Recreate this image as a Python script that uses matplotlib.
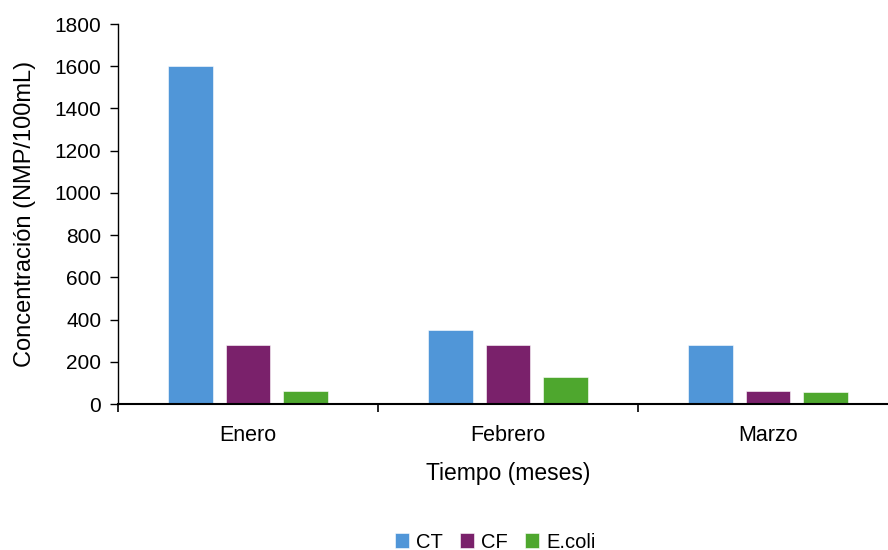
import numpy as np
import matplotlib.pyplot as plt

meses = ["Enero", "Febrero", "Marzo"]
series = ["CT", "CF", "E.coli"]
ct = [1600, 350, 280]
cf = [280, 280, 60]
ecoli = [60, 130, 55]
colores = ["#5096d8", "#7a216b", "#4ea72e"]

plt.rcParams["font.family"] = ["Liberation Sans", "DejaVu Sans"]

fig = plt.figure(figsize=(8.88, 5.5), dpi=100)
ax = fig.add_axes([118 / 888, 146 / 550, 780 / 888, 380 / 550])

x = np.arange(len(meses))
ancho = 0.173
paso = 0.221
for i, (vals, nombre) in enumerate(zip([ct, cf, ecoli], series)):
    ax.bar(x + (i - 1) * paso, vals, ancho, color=colores[i], label=nombre,
           edgecolor="white", linewidth=0.4)

ax.set_xlim(-0.5, 2.5)
ax.set_ylim(0, 1800)
ax.set_yticks(range(0, 1801, 200))
ax.tick_params(axis="y", labelsize=15, length=6, width=1, pad=6)

# month names centred under each group, tick marks between groups
ax.set_xticks(x)
ax.set_xticklabels(meses)
ax.set_xticks([-0.5, 0.5, 1.5, 2.5], minor=True)
ax.tick_params(axis="x", which="major", length=0, labelsize=15.5, pad=15)
ax.tick_params(axis="x", which="minor", length=6, width=1.2)

for lado in ["top", "right"]:
    ax.spines[lado].set_visible(False)
ax.spines["left"].set_linewidth(1)
ax.spines["bottom"].set_linewidth(1.5)

ax.set_ylabel("Concentración (NMP/100mL)", fontsize=17)
ax.yaxis.set_label_coords(-82 / 780, 0.5)
ax.set_xlabel("Tiempo (meses)", fontsize=16.5)
ax.xaxis.set_label_coords(390 / 780, -58 / 380)

fig.legend(loc="center", bbox_to_anchor=(495 / 888, 1 - 542 / 550), ncol=3,
           frameon=False, fontsize=14.5, handlelength=0.7, handleheight=0.7,
           handletextpad=0.35, columnspacing=0.85)

fig.savefig("out.png", dpi=100)
